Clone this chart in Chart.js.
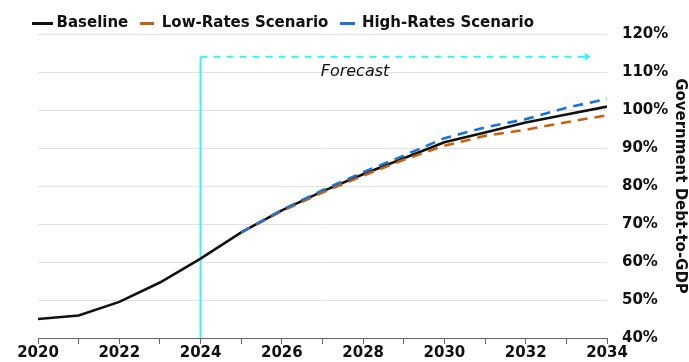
<!DOCTYPE html>
<html>
<head>
<meta charset="utf-8">
<script src="https://cdn.jsdelivr.net/npm/chart.js@4/dist/chart.umd.min.js"></script>
<style>
  html, body { margin: 0; padding: 0; background: #fff; }
  #wrap { width: 689px; height: 362px; }
</style>
</head>
<body>
<div id="wrap"><canvas id="myChart"></canvas></div>
<script>
// values
const years = [2020, 2021, 2022, 2023, 2024, 2025, 2026, 2027, 2028, 2029, 2030, 2031, 2032, 2033, 2034]
const baseline = [45, 45.9, 49.5, 54.6, 60.9, 67.8, 73.6, 78.6, 83.1, 87.3, 91.5, 94.1, 96.7, 98.8, 100.9]
const lowRates = [null, null, null, null, null, 67.8, 73.4, 78.3, 82.7, 86.9, 90.6, 93.2, 94.8, 96.8, 98.6]
const highRates = [null, null, null, null, null, 67.8, 73.7, 78.9, 83.6, 88.0, 92.6, 95.4, 97.6, 100.6, 102.9]
const yTicks = [40, 50, 60, 70, 80, 90, 100, 110, 120]

// forecast marker
const forecastStart = 2024
const forecastEnd = 2033.6
const forecastLevel = 114
const forecastText = 'Forecast'
const forecastTextYear = 2027.8
const forecastTextLevel = 110

const FONT = "'DejaVu Sans', sans-serif"
const colors = ['#111111', '#c8600e', '#1a73d6']

function points(arr) {
    return years.map((y, i) => ({ x: y, y: arr[i] }))
}

// small line images used as legend markers
function marker(color, w) {
    const c = document.createElement('canvas')
    c.width = w
    c.height = 3
    const g = c.getContext('2d')
    g.fillStyle = color
    g.fillRect(0, 0, w, 3)
    return c
}
const legendMarkers = [marker(colors[0], 21), marker(colors[1], 14), marker(colors[2], 15)]

const forecastPlugin = {
    id: 'forecast',
    beforeDatasetsDraw(chart) {
        const ctx = chart.ctx
        const xs = chart.scales.x
        const ys = chart.scales.y
        const x0 = xs.getPixelForValue(forecastStart)
        const x1 = xs.getPixelForValue(forecastEnd)
        const yTop = ys.getPixelForValue(forecastLevel)
        const yBot = ys.getPixelForValue(40)
        ctx.save()
        ctx.strokeStyle = '#3ef0f5'
        ctx.fillStyle = '#3ef0f5'
        ctx.lineWidth = 2
        // vertical solid line
        ctx.beginPath()
        ctx.moveTo(x0, yBot)
        ctx.lineTo(x0, yTop)
        ctx.stroke()
        // horizontal dashed line
        ctx.setLineDash([7, 6])
        ctx.beginPath()
        ctx.moveTo(x0, yTop)
        ctx.lineTo(x1 - 4, yTop)
        ctx.stroke()
        ctx.setLineDash([])
        // arrow head
        ctx.beginPath()
        ctx.moveTo(x1, yTop)
        ctx.lineTo(x1 - 6, yTop - 4)
        ctx.lineTo(x1 - 6, yTop + 4)
        ctx.closePath()
        ctx.fill()
        // label
        ctx.fillStyle = '#111'
        ctx.font = "oblique 16px " + FONT
        ctx.textAlign = 'center'
        ctx.textBaseline = 'middle'
        ctx.fillText(forecastText, xs.getPixelForValue(forecastTextYear), ys.getPixelForValue(forecastTextLevel))
        ctx.restore()
    }
}

// shorter legend box, and start it a bit further right
const legendFit = {
    id: 'legendFit',
    afterInit(chart) {
        const lg = chart.legend
        const orig = lg.fit
        lg.fit = function () {
            orig.call(this)
            this.height -= 7
        }
    },
    beforeDraw(chart) {
        chart.legend.left = 23
    }
}

const ctx = document.getElementById('myChart').getContext('2d')
const myChart = new Chart(ctx, {
    type: 'line',
    data: {
        datasets: [
            {
                label: 'Baseline',
                data: points(baseline),
                borderColor: colors[0],
                backgroundColor: colors[0],
                borderWidth: 2.6,
                pointRadius: 0,
                order: 3
            },
            {
                label: 'Low-Rates Scenario',
                data: points(lowRates),
                borderColor: colors[1],
                backgroundColor: colors[1],
                borderWidth: 2.6,
                borderDash: [10, 7],
                pointRadius: 0,
                order: 2
            },
            {
                label: 'High-Rates Scenario',
                data: points(highRates),
                borderColor: colors[2],
                backgroundColor: colors[2],
                borderWidth: 2.6,
                borderDash: [10, 7],
                pointRadius: 0,
                order: 1
            }
        ]
    },
    options: {
        responsive: true,
        maintainAspectRatio: false,
        animation: false,
        layout: { padding: { top: 4, left: 0, right: 0, bottom: 0 } },
        plugins: {
            legend: {
                position: 'top',
                align: 'start',
                labels: {
                    color: '#111',
                    font: { family: FONT, size: 15, weight: 'bold' },
                    usePointStyle: true,
                    pointStyleWidth: 14,
                    boxHeight: 3,
                    padding: 12,
                    sort: (a, b) => a.datasetIndex - b.datasetIndex,
                    generateLabels(chart) {
                        const items = Chart.defaults.plugins.legend.labels.generateLabels(chart)
                        items.forEach(it => {
                            it.pointStyle = legendMarkers[it.datasetIndex]
                            it.rotation = 0
                            it.lineDash = []
                            it.lineWidth = 0
                        })
                        return items
                    }
                }
            },
            tooltip: { enabled: false }
        },
        scales: {
            x: {
                type: 'linear',
                min: years[0],
                max: years[years.length - 1],
                afterFit: s => { s.paddingLeft = 38 },
                grid: { drawOnChartArea: false, drawTicks: true, tickLength: 6, color: '#666' },
                border: { display: true, color: '#666', width: 1 },
                ticks: {
                    stepSize: 1,
                    autoSkip: false,
                    maxRotation: 0,
                    padding: 0,
                    color: '#111',
                    font: { family: FONT, size: 15, weight: 'bold' },
                    callback: v => (v % 2 === 0 ? String(v) : '')
                }
            },
            y: {
                position: 'right',
                min: yTicks[0],
                max: yTicks[yTicks.length - 1],
                afterBuildTicks: axis => { axis.ticks = yTicks.map(v => ({ value: v })) },
                afterFit: s => { s.width = 82 },
                grid: { color: '#e2e2e2', drawTicks: false },
                border: { display: false },
                ticks: {
                    padding: 15,
                    color: '#111',
                    font: { family: FONT, size: 15, weight: 'bold' },
                    callback: v => v + '%'
                },
                title: {
                    display: true,
                    text: 'Government Debt-to-GDP',
                    color: '#111',
                    font: { family: FONT, size: 15, weight: 'bold' },
                    padding: { top: 0, bottom: 0 }
                }
            }
        }
    },
    plugins: [forecastPlugin, legendFit]
})
</script>
</body>
</html>
